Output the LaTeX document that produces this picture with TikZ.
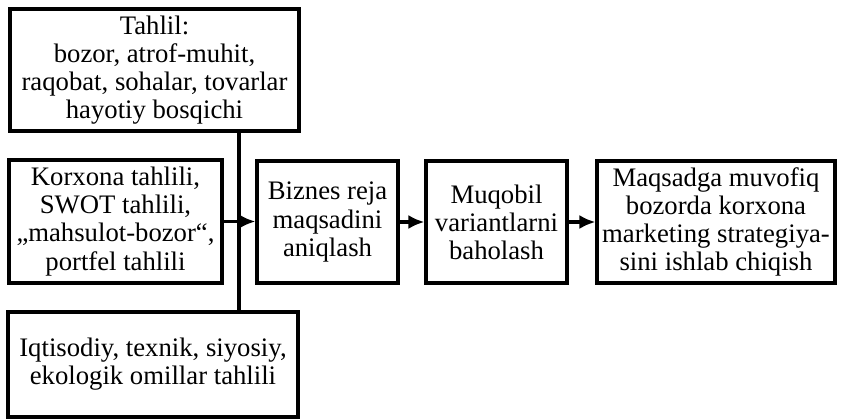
\documentclass[tikz,border=0pt]{standalone}
\usepackage{fontspec}
\setmainfont{Liberation Serif}
\usepackage{tikz}
\usetikzlibrary{arrows.meta,positioning,calc}

\begin{document}
\begin{tikzpicture}[
    x=0.02cm,
    y=-0.02cm,
    >={Latex[length=3.2mm,width=2.8mm]},
    boks/.style={draw, line width=1.8pt, inner sep=2pt, align=center, font=\fontsize{15.2}{16}\selectfont}
]
\useasboundingbox (0,0) rectangle (841,419);
\node[boks, minimum width=5.78cm, minimum height=2.44cm] (tahlil) at (154.5,70) {Tahlil:\\ bozor, atrof-muhit,\\ raqobat, sohalar, tovarlar\\ hayotiy bosqichi};
\node[boks, minimum width=4.26cm, minimum height=2.46cm] (korxona) at (115.5,221.5) {Korxona tahlili,\\ SWOT tahlili,\\ „mahsulot-bozor“,\\ portfel tahlili};
\node[boks, minimum width=5.8cm, minimum height=2.1cm] (omil) at (153,364.5) {Iqtisodiy, texnik, siyosiy,\\ ekologik omillar tahlili};
\node[boks, minimum width=2.82cm, minimum height=2.44cm] (maqsad) at (327.5,222) {Biznes reja\\ maqsadini\\ aniqlash};
\node[boks, minimum width=2.82cm, minimum height=2.44cm] (variant) at (496.5,222) {Muqobil\\ variantlarni\\ baholash};
\node[boks, minimum width=4.76cm, minimum height=2.44cm] (strategiya) at (716,222) {Maqsadga muvofiq\\ bozorda korxona\\ marketing strategiya-\\ sini ishlab chiqish};
\coordinate (stem) at (239,0);
\draw[line width=1.8pt] (tahlil.south -| stem) -- (omil.north -| stem);
\draw[->, line width=1.8pt] (korxona.east) -- (korxona.east -| maqsad.west);
\draw[->, line width=1.8pt] (maqsad) -- (variant);
\draw[->, line width=1.8pt] (variant) -- (strategiya);
\end{tikzpicture}
\end{document}
